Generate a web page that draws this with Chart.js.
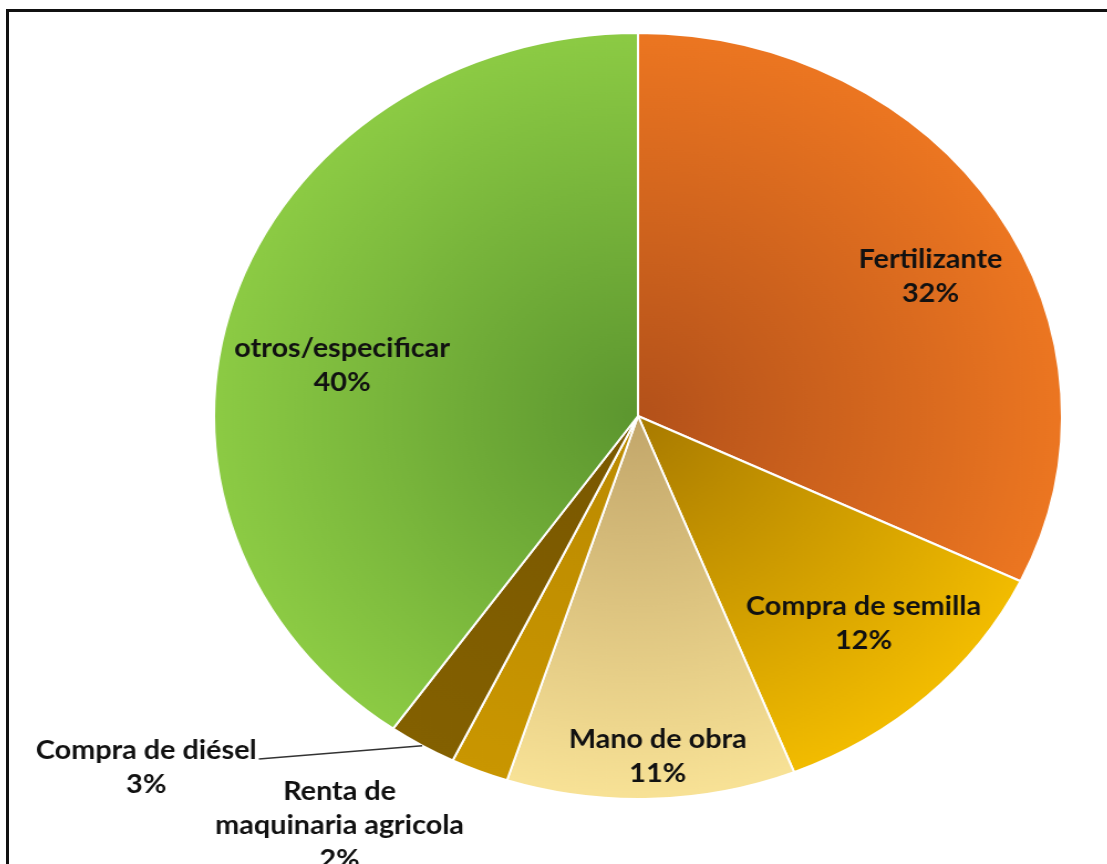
<!DOCTYPE html>
<html>
<head>
<meta charset="utf-8">
<script src="https://cdn.jsdelivr.net/npm/chart.js@4.4.1/dist/chart.umd.min.js"></script>
<style>
    html, body { margin: 0; padding: 0; background: #fff; overflow: hidden; }
    #frame { position: absolute; left: 6px; top: 9px; width: 1200px; height: 900px;
             border-left: 3px solid #111; border-top: 3px solid #111; }
    /* the original pie is an ellipse, so stretch the canvas sideways */
    #wrap { position: absolute; left: 0; top: 0; width: 1107px; height: 864px;
            transform: scaleX(1.107); transform-origin: 638px 0; }
</style>
</head>
<body>
<div id="frame"></div>
<div id="wrap"><canvas id="pie_chart"></canvas></div>
<script>
//Datos (las etiquetas muestran el valor redondeado)
var categories = ['Fertilizante', 'Compra de semilla', 'Mano de obra', 'Renta de\nmaquinaria agricola', 'Compra de diésel', 'otros/especificar'];
var values = [32.1, 11.9, 11.0, 2.2, 2.6, 40.2];

//Colores (centro, borde)
var inner_colors = ['#b3511a', '#a87a00', '#c2a66a', '#bb8a00', '#7a5800', '#5c962f'];
var outer_colors = ['#ec7621', '#f2bc00', '#f8e296', '#c99600', '#836000', '#8ccb44'];

//Posición de etiquetas: giro respecto al centro del sector (grados) y distancia (fracción del radio)
var label_shift = [4.4, -1.4, -1.2, 11.4, 21, -7];
var label_dist = [0.78, 0.76, 0.89, 1.28, 1.48, 0.71];
var leader = [false, false, false, false, true, false];
var line_h = 34;

function slice_fill(context) {
    var chart = context.chart;
    var area = chart.chartArea;
    var i = context.dataIndex;
    if (!area) return outer_colors[i];
    var cx = (area.left + area.right) / 2;
    var cy = (area.top + area.bottom) / 2;
    var r = Math.min(area.right - area.left, area.bottom - area.top) / 2;
    var g = chart.ctx.createRadialGradient(cx, cy, 0, cx, cy, r);
    g.addColorStop(0, inner_colors[i]);
    g.addColorStop(1, outer_colors[i]);
    return g;
}

/* --------------------- Etiquetas --------------------- */

var label_plugin = {
    id: 'slice_labels',
    afterDatasetsDraw: function (chart) {
        var ctx = chart.ctx;
        var arcs = chart.getDatasetMeta(0).data;
        ctx.save();
        ctx.font = 'bold 26px Lato';
        ctx.fillStyle = '#111';
        ctx.textAlign = 'center';
        ctx.textBaseline = 'middle';
        arcs.forEach(function (arc, i) {
            var mid = (arc.startAngle + arc.endAngle) / 2;
            var a = mid + label_shift[i] * Math.PI / 180;
            var r = arc.outerRadius * label_dist[i];
            var x = arc.x + r * Math.cos(a);
            var y = arc.y + r * Math.sin(a);
            var lines = categories[i].split('\n').concat([Math.round(values[i]) + '%']);
            var top = y - (lines.length - 1) * line_h / 2;
            lines.forEach(function (t, k) {
                ctx.fillText(t, x, top + k * line_h);
            });
            if (leader[i]) {
                var w = ctx.measureText(lines[0]).width;
                ctx.strokeStyle = '#333';
                ctx.lineWidth = 1.5;
                ctx.beginPath();
                ctx.moveTo(x + w / 2 + 2, top + 8);
                ctx.lineTo(arc.x + arc.outerRadius * Math.cos(mid), arc.y + arc.outerRadius * Math.sin(mid));
                ctx.stroke();
            }
        });
        ctx.restore();
    }
};

/* --------------------- Gráfico --------------------- */

var ctx = document.getElementById('pie_chart').getContext('2d');
var chart = new Chart(ctx, {
    type: 'pie',
    data: {
        labels: categories,
        datasets: [{
            data: values,
            backgroundColor: slice_fill,
            borderColor: '#ffffff',
            borderWidth: 2
        }]
    },
    options: {
        responsive: true,
        maintainAspectRatio: false,
        animation: false,
        layout: {
            padding: { top: 32, bottom: 64, left: 254, right: 85 }
        },
        plugins: {
            legend: { display: false },
            tooltip: { enabled: false }
        }
    },
    plugins: [label_plugin]
});
</script>
</body>
</html>
